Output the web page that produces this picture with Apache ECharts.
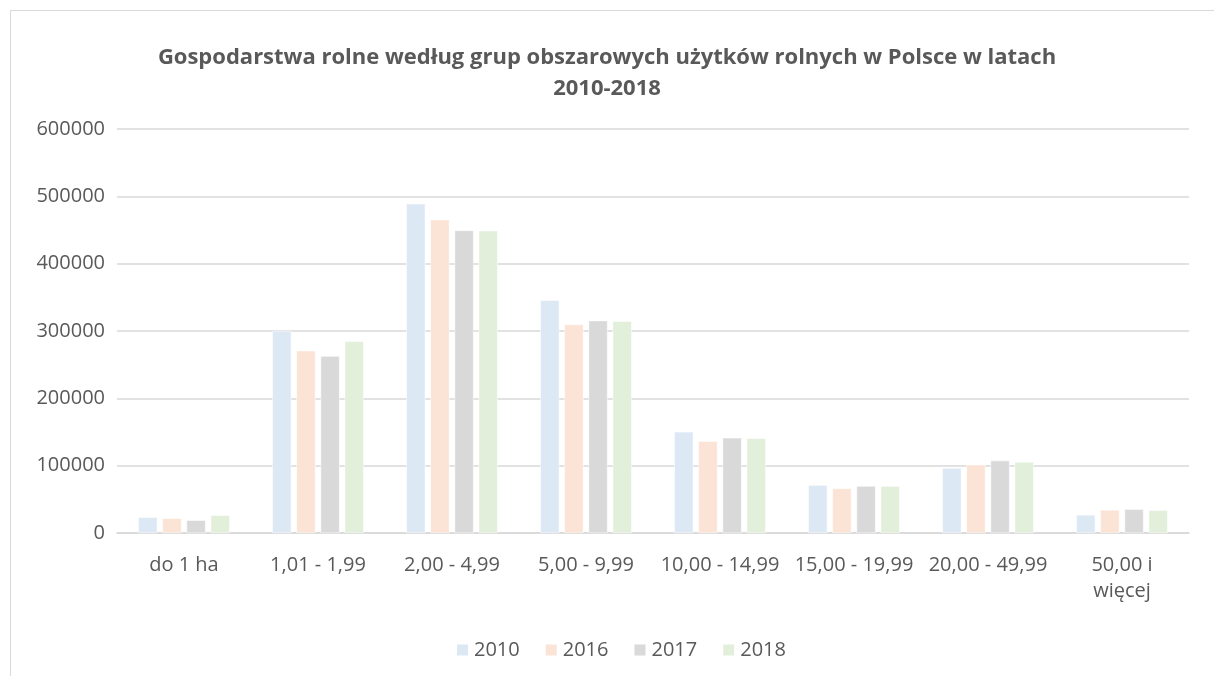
<!DOCTYPE html>
<html><head><meta charset="utf-8">
<script src="https://cdn.jsdelivr.net/npm/echarts@6/dist/echarts.min.js"></script>
<style>
html,body{margin:0;padding:0;background:#fff;}
#frame{position:absolute;left:10px;top:10px;width:1220px;height:700px;border:1px solid #d9d9d9;box-sizing:border-box;}
#chart{position:absolute;left:0;top:0;width:1214px;height:676px;}
</style></head>
<body>
<div id="frame"></div>
<div id="chart"></div>
<script>
const categories = ['do 1 ha','1,01 - 1,99','2,00 - 4,99','5,00 - 9,99','10,00 - 14,99','15,00 - 19,99','20,00 - 49,99','50,00 i\nwięcej'];
const years = ['2010','2016','2017','2018'];
const v2010 = [23400, 300000, 489000, 345800, 150200, 71100, 96500, 26900];
const v2016 = [21900, 270600, 465200, 309500, 136300, 66200, 101500, 34300];
const v2017 = [18900, 262700, 449300, 315400, 141300, 69700, 107500, 35300];
const v2018 = [26300, 284600, 448800, 314400, 140800, 69700, 105500, 33800];
const colors = ['#dde8f5','#fbe3d6','#d9d9d9','#e2efda'];
const values = [v2010, v2016, v2017, v2018];
const font = 'Open Sans';
const chart = echarts.init(document.getElementById('chart'));
chart.setOption({
  animation:false,
  title:{text:'Gospodarstwa rolne według grup obszarowych użytków rolnych w Polsce w latach\n2010-2018',
    left:'center', top:37, textStyle:{fontFamily:font,fontSize:22,fontWeight:'bold',color:'#595959',lineHeight:31}},
  legend:{data:years, top:635, left:450, itemWidth:13, itemHeight:13, itemGap:24, icon:'rect',
    textStyle:{fontFamily:font,fontSize:20,color:'#595959'}},
  grid:{left:117,right:25,top:129,bottom:143},
  xAxis:{type:'category',data:categories,
    axisLine:{lineStyle:{color:'#d9d9d9',width:1.5}},axisTick:{show:false},
    axisLabel:{fontFamily:font,fontSize:20,color:'#595959',margin:19,interval:0,lineHeight:26}},
  yAxis:{type:'value',min:0,max:600000,interval:100000,
    axisLine:{show:false},axisTick:{show:false},
    splitLine:{lineStyle:{color:'#d9d9d9',width:1.5}},
    axisLabel:{fontFamily:font,fontSize:20,color:'#595959',margin:12,formatter:(v)=>String(v)}},
  series: years.map((y,i)=>({name:y,type:'bar',data:values[i],barWidth:19,barGap:'27%',
    itemStyle:{color:colors[i],borderColor:'#ffffff',borderWidth:0.5}}))
});
</script>
</body></html>
